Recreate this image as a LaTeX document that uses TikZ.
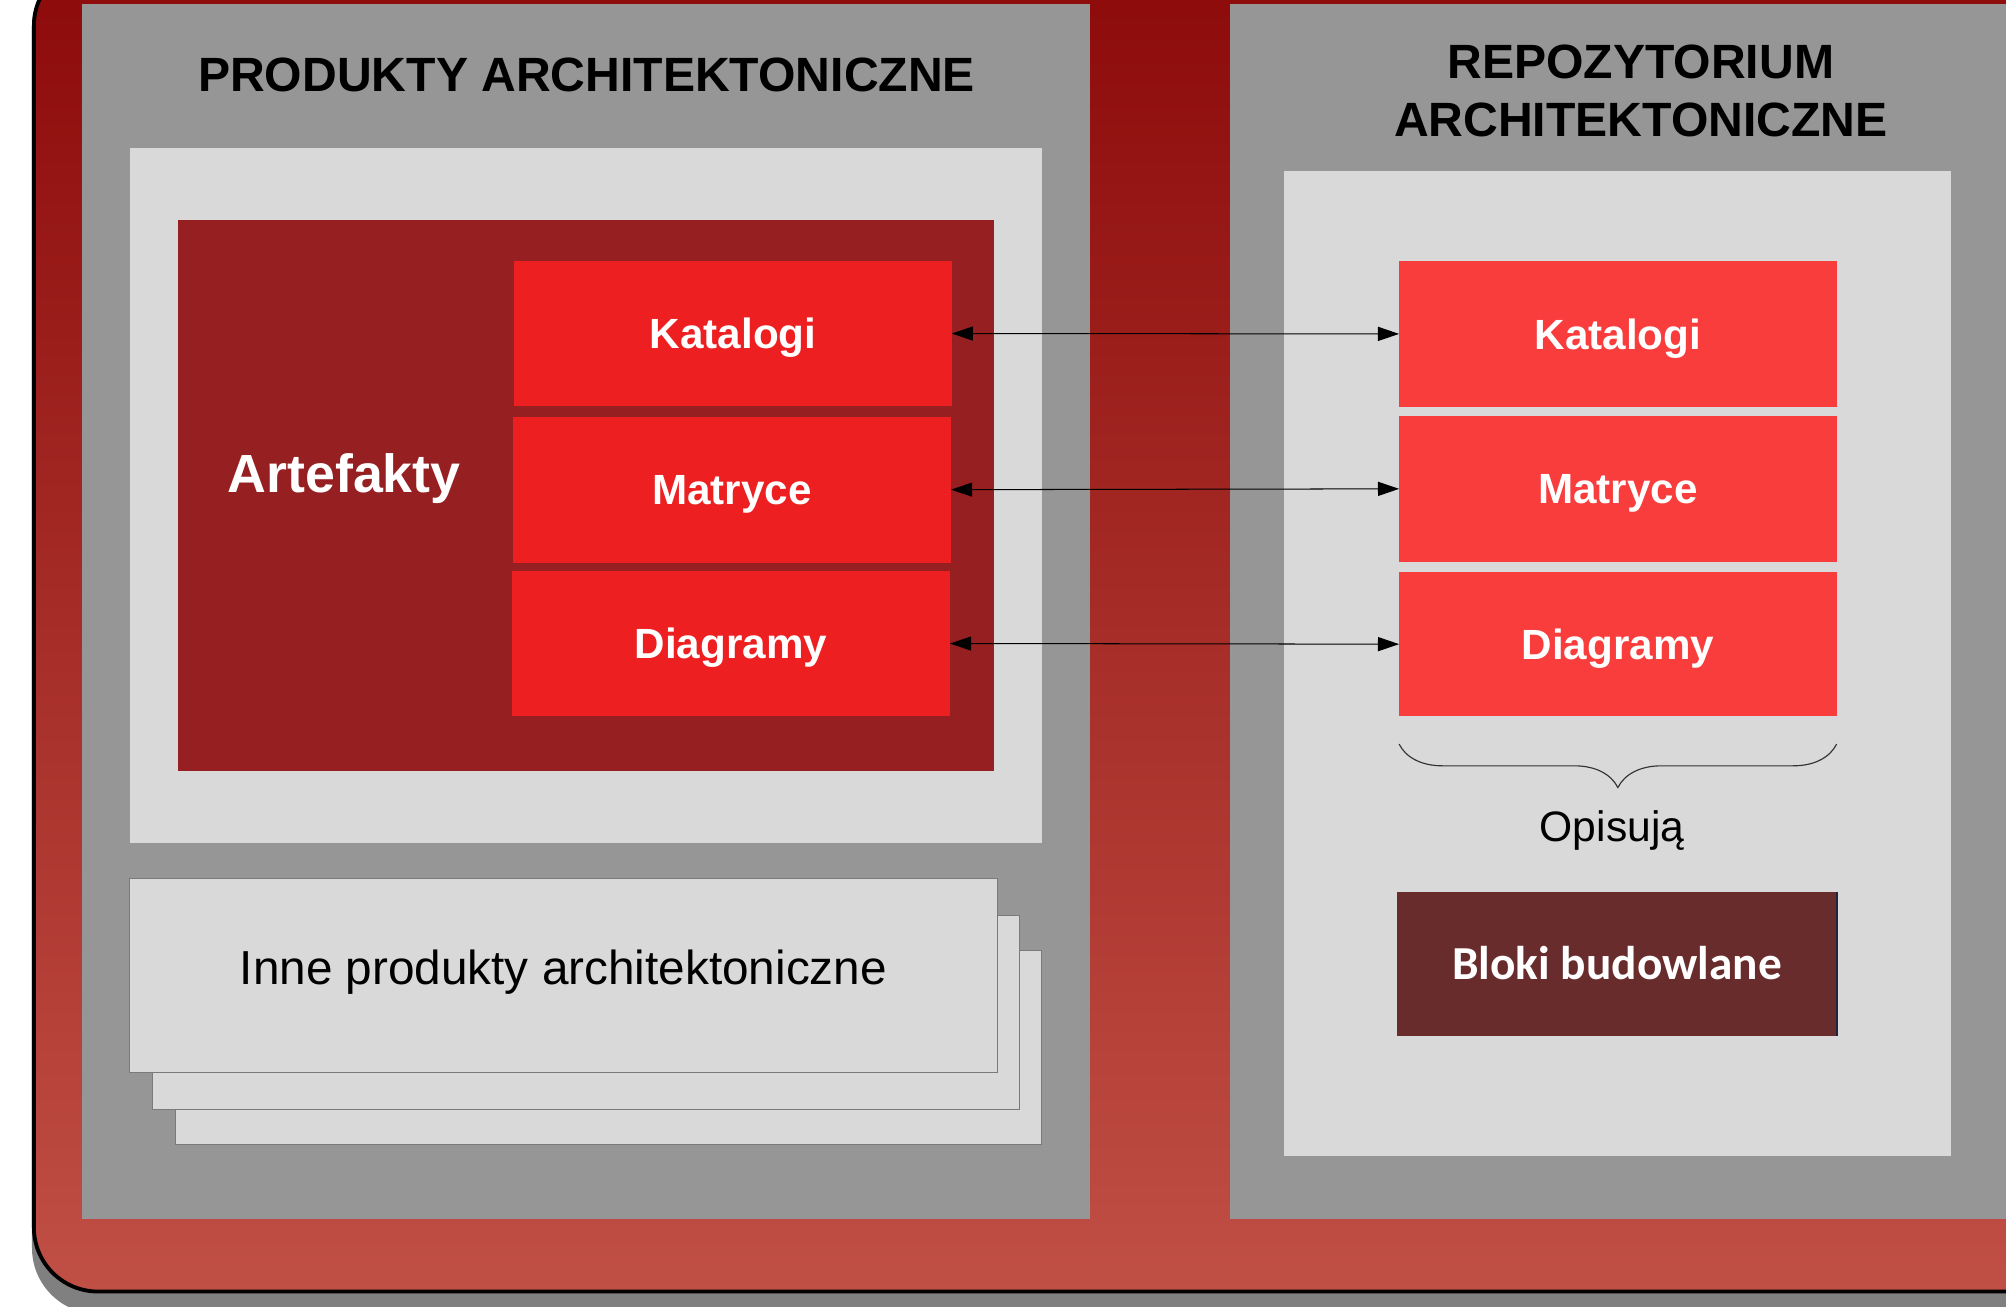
\documentclass[tikz,border=0pt]{standalone}
\usepackage{fontspec}
\setmainfont{Liberation Sans}
\newfontfamily\calibfont{Carlito}
\usetikzlibrary{arrows.meta,decorations.pathreplacing}
\definecolor{panelgray}{HTML}{969696}
\definecolor{lightpanel}{HTML}{D9D9D9}
\definecolor{darkred}{HTML}{961F21}
\definecolor{leftred}{HTML}{ED1F20}
\definecolor{rightred}{HTML}{F93C3C}
\definecolor{brick}{HTML}{692C2C}
\definecolor{outertop}{HTML}{8C0A0A}
\definecolor{outerbot}{HTML}{C04F45}
\definecolor{shadowgray}{HTML}{808080}
\definecolor{pageborder}{HTML}{7A7A7A}
\definecolor{navyedge}{HTML}{1F2540}
\tikzset{
  panel/.style={rectangle, inner sep=0pt, outer sep=0pt, draw=none},
  redlabel/.style={panel, text=white, font=\fontsize{33}{38}\selectfont\bfseries, text height=23.6pt, text depth=0pt, minimum width=342pt},
  leftitem/.style={redlabel, fill=leftred},
  rightitem/.style={redlabel, fill=rightred},
  page/.style={panel, fill=lightpanel, draw=pageborder, line width=0.9pt},
  titletext/.style={font=\fontsize{37.6}{45.6}\selectfont\bfseries, text=black, inner sep=0pt},
  link/.style={{Triangle[length=16.5pt,width=11pt]}-{Triangle[length=16.5pt,width=11pt]}, line width=0.8pt, black},
}
\begin{document}
\begin{tikzpicture}[x=1pt,y=-1pt]
\useasboundingbox (0,0) rectangle (1568,1021);
\begin{scope}
\clip (0,0) rectangle (1568,1021);
% outer frame with shadow
\fill[shadowgray, rounded corners=51.5pt] (25,-30) rectangle (1660,1027);
\draw[line width=3pt, rounded corners=50pt, top color=outertop, bottom color=outerbot] (26.5,-30) rectangle (1650,1009.5);
% grey panels
\node[panel, fill=panelgray, minimum width=788pt, minimum height=950pt] (lp) at (458,478) {};
\node[panel, fill=panelgray, minimum width=700pt, minimum height=950pt] (rp) at (1311.5,478) {};
% titles
\node[titletext, text height=27.3pt, text depth=0pt] (lt) at (458.5,57.5) {PRODUKTY ARCHITEKTONICZNE};
\node[titletext, anchor=base, align=center] (rt) at (1282.5,106.8) {REPOZYTORIUM\\ARCHITEKTONICZNE};
% left light panel
\node[panel, fill=lightpanel, minimum width=712.5pt, minimum height=543.5pt] (llp) at (458.25,387.25) {};
\node[panel, fill=darkred, minimum width=638pt, minimum height=431pt] (art) at (458,387.5) {};
\node[panel, text=white, font=\fontsize{42}{48}\selectfont\bfseries, text height=30.1pt, text depth=0pt] (artl) at (269,370) {Artefakty};
\node[leftitem, minimum width=342pt, minimum height=113.4pt] (lk) at (573,260.7) {Katalogi};
\node[leftitem, minimum width=342.4pt, minimum height=114.1pt] (lm) at (572.2,382.75) {Matryce};
\node[leftitem, minimum width=342.6pt, minimum height=114pt] (ld) at (571.3,503) {Diagramy};
% stacked pages
\node[page, minimum width=677.1pt, minimum height=151.7pt] (pg3) at (475.55,818.95) {};
\node[page, minimum width=677.7pt, minimum height=151.1pt] (pg2) at (457.95,791.35) {};
\node[page, minimum width=678.1pt, minimum height=151.4pt, font=\fontsize{37.3}{42}\selectfont, text height=26.7pt, text depth=11.8pt] (pg1) at (440.35,762.3) {Inne produkty architektoniczne};
% right light panel
\node[panel, fill=lightpanel, minimum width=521.3pt, minimum height=769.6pt] (rlp) at (1264.35,518.8) {};
\node[rightitem, minimum height=114pt] (rk) at (1264.6,261) {Katalogi};
\node[rightitem, minimum height=113.8pt] (rm) at (1264.6,382.1) {Matryce};
\node[rightitem, minimum height=113pt] (rd) at (1264.6,503.5) {Diagramy};
% brace
\coordinate (brR) at (1435.6,581.6);
\coordinate (brL) at (1093.6,581.6);
\draw[decorate, decoration={brace, amplitude=34pt}, line width=0.9pt, color=black!80] (brR) -- (brL);
\node[panel, font=\fontsize{33.3}{40}\selectfont, text height=23.8pt, text depth=0pt] (op) at (1260,646.2) {Opisują};
% building blocks
\node[panel, fill=brick, text=white, font=\calibfont\fontsize{37}{42}\selectfont\bfseries, text height=23.8pt, text depth=0pt, minimum width=344pt, minimum height=113pt] (bb) at (1264,753.5) {Bloki budowlane};
\draw[navyedge, line width=1.5pt] (bb.north east) -- (bb.south east);
% links
\draw[link] (lk.east) -- (rk.west);
\draw[link] (lm.east) -- (rm.west);
\draw[link] (ld.east) -- (rd.west);
\end{scope}
\end{tikzpicture}
\end{document}
